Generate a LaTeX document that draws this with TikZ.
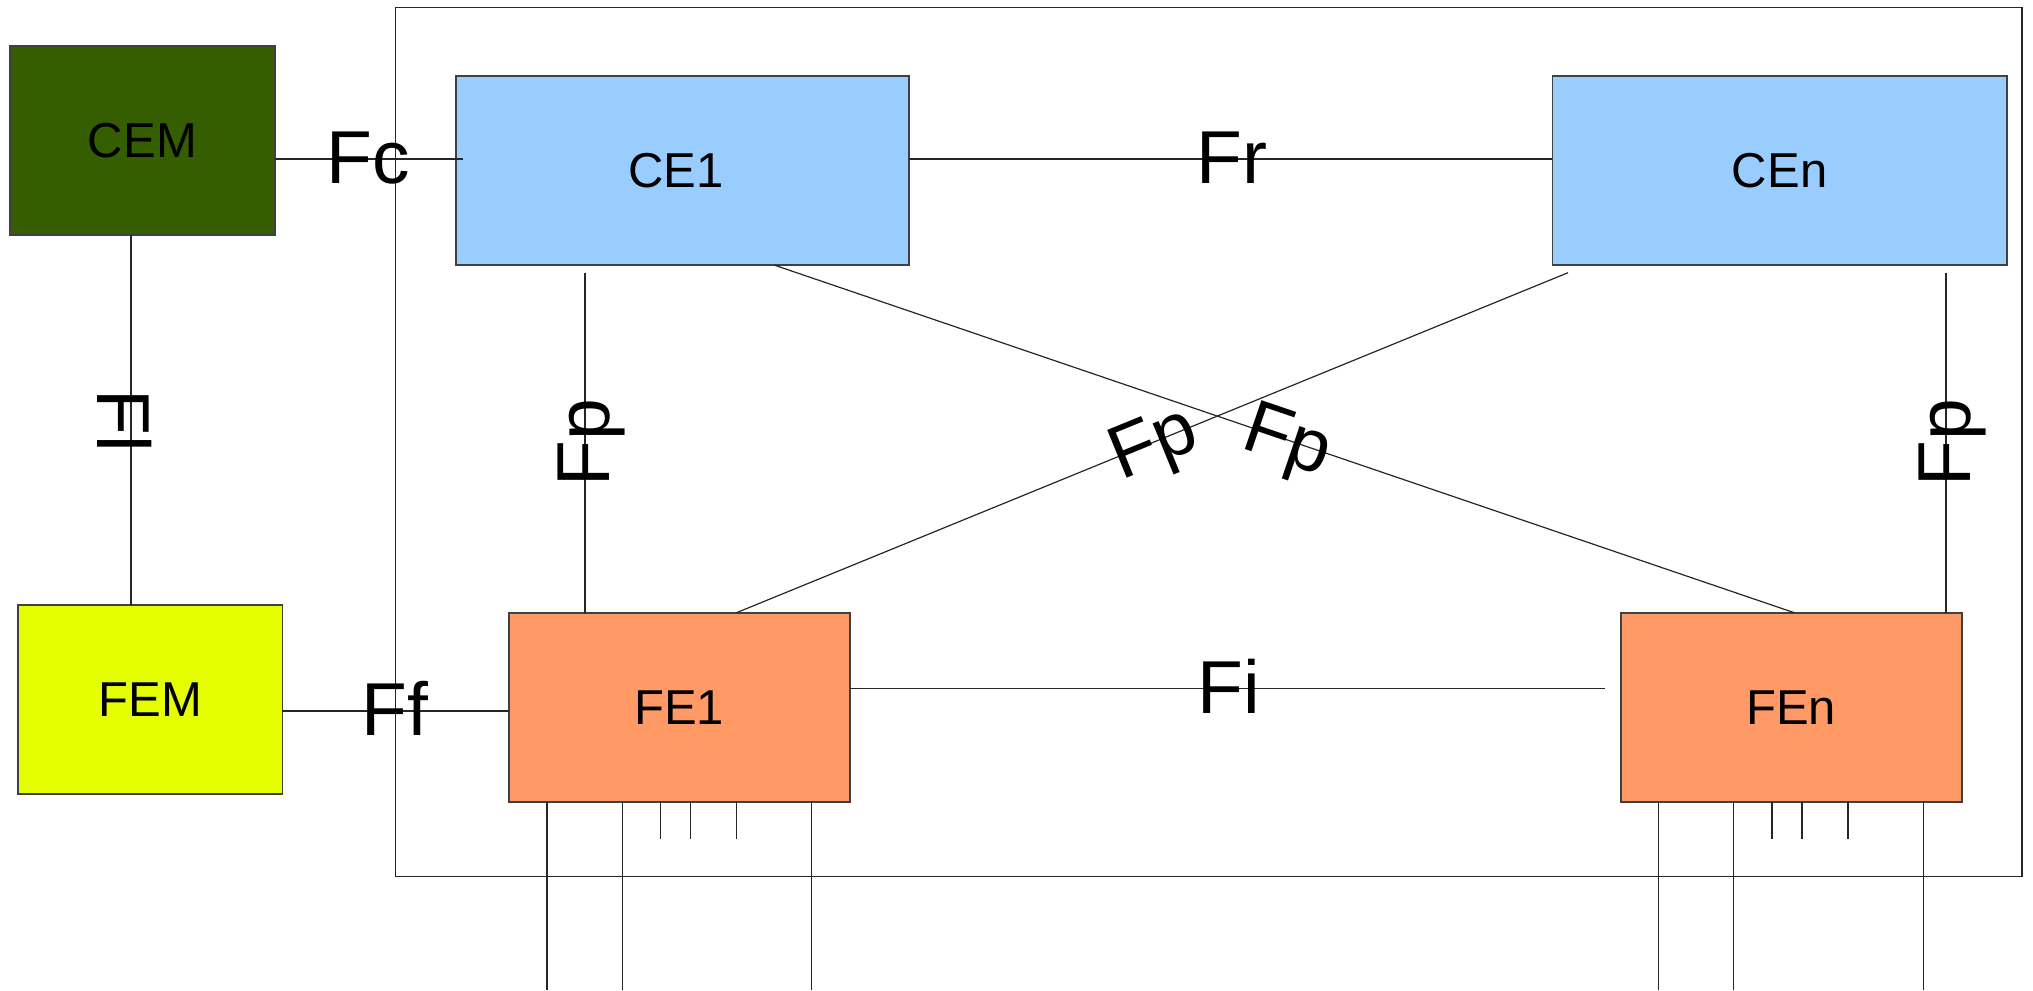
\documentclass[tikz,border=0pt]{standalone}
\usepackage{fontspec}
\setmainfont{Liberation Sans}
\definecolor{cemgreen}{HTML}{355E00}
\definecolor{ceblue}{HTML}{99CCFF}
\definecolor{femyellow}{HTML}{E6FF00}
\definecolor{feorange}{HTML}{FF9966}
\definecolor{edge}{HTML}{404040}
\tikzset{
  unit/.style={draw=edge, line width=0.9pt, inner sep=0pt, outer sep=0pt,
    font=\fontsize{24.5}{29}\selectfont},
  conn/.style={draw=black!85, line width=0.6pt},
  iface/.style={font=\fontsize{37.5}{44}\selectfont, inner sep=0pt},
  frame/.style={draw=black!85, line width=0.7pt}
}
\begin{document}
\begin{tikzpicture}[x=0.5pt, y=-0.5pt]
\useasboundingbox (0,0) rectangle (2033,990);

% network element boundary
\draw[frame] (395.5,7.7) rectangle (2022,876.7);

% managers and elements
\node[unit, fill=cemgreen, minimum width=132.6pt, minimum height=94.65pt] (cem) at (142.4,140.4) {CEM};
\node[unit, fill=ceblue, minimum width=226.35pt, minimum height=94.5pt] (ce1) at (682.7,170.5) {\hspace*{-6.7pt}CE1};
\node[unit, fill=ceblue, minimum width=227.2pt, minimum height=94.5pt] (cen) at (1779.6,170.5) {CEn};
\node[unit, fill=femyellow, minimum width=132.3pt, minimum height=94.35pt] (fem) at (150.1,699.7) {FEM};
\node[unit, fill=feorange, minimum width=170.3pt, minimum height=94.5pt] (fe1) at (679.3,707.2) {FE1};
\node[unit, fill=feorange, minimum width=170.45pt, minimum height=94.5pt] (fen) at (1791.2,707.2) {FEn};

% reference rows and free ends
\coordinate (rowC) at (0,159);
\coordinate (rowF) at (0,711);
\coordinate (rowI) at (0,688.3);
\coordinate (flx) at (131,0);
\coordinate (fcend) at (463.4,159);
\coordinate (fiend) at (1605.4,688.3);
\coordinate (p1top) at (585,272.7);
\coordinate (pntop) at (1946,272.7);
\coordinate (xtop) at (1568,272.7);

% interfaces
\draw[conn] (cem.east |- rowC) -- (fcend);
\draw[conn] (ce1.east |- rowC) -- (cen.west |- rowC);
\draw[conn] (cem.south -| flx) -- (fem.north -| flx);
\draw[conn] (fem.east |- rowF) -- (fe1.west |- rowF);
\draw[conn] (fe1.east |- rowI) -- (fiend);
\draw[conn] (p1top) -- (fe1.north -| p1top);
\draw[conn] (pntop) -- (fen.north -| pntop);
\draw[conn] (ce1.south -| 774,0) -- (fen.north -| 1794.2,0);
\draw[conn] (xtop) -- (fe1.north -| 736.5,0);

% external ports
\foreach \x in {547,622.8,811.7}
  \draw[conn] (fe1.south -| \x,0) -- (\x,990);
\foreach \x in {660.7,690.6,736.5}
  \draw[conn] (fe1.south -| \x,0) -- (\x,839.3);
\foreach \x in {1658.8,1733.7,1923.5}
  \draw[conn] (fen.south -| \x,0) -- (\x,990);
\foreach \x in {1772,1802,1848}
  \draw[conn] (fen.south -| \x,0) -- (\x,839.3);

% interface labels
\node[iface, anchor=base] (lfc) at (368,183.3) {Fc};
\node[iface, anchor=base] (lfr) at (1232,184) {Fr};
\node[iface, anchor=base] (lff) at (394.7,735) {Ff};
\node[iface, anchor=base] (lfi) at (1228.6,713) {Fi};
\node[iface, rotate=-90] (lfl) at (125,421) {Fl};
\node[iface, rotate=90] (lfp1) at (591.3,443) {Fp};
\node[iface, rotate=90] (lfpn) at (1952,443) {Fp};
\node[iface, rotate=22.2] (lfpx) at (1155,447) {Fp};
\node[iface, rotate=-18.8] (lfpy) at (1286.5,445) {Fp};
\end{tikzpicture}
\end{document}
